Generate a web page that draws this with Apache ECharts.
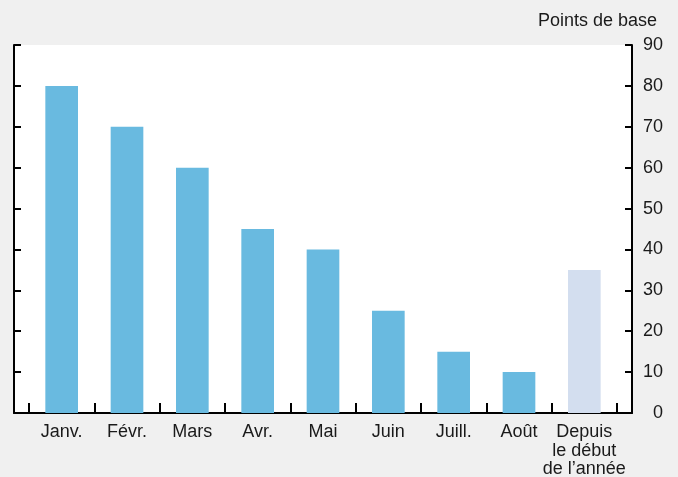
<!DOCTYPE html>
<html>
<head>
<meta charset="utf-8">
<script src="https://cdn.jsdelivr.net/npm/echarts@6/dist/echarts.min.js"></script>
<style>
  html, body { margin: 0; padding: 0; background: #f0f0f0; }
  #chart { width: 678px; height: 477px; }
</style>
</head>
<body>
<div id="chart"></div>
<script>
var categories = ['Janv.', 'Févr.', 'Mars', 'Avr.', 'Mai', 'Juin', 'Juill.', 'Août', 'Depuis\nle début\nde l\u2019année'];
var values = [80, 70, 60, 45, 40, 25, 15, 10, 35];
var barColors = ['#69bae0', '#69bae0', '#69bae0', '#69bae0', '#69bae0', '#69bae0', '#69bae0', '#69bae0', '#d3deef'];
var yTicks = [0, 10, 20, 30, 40, 50, 60, 70, 80, 90];

var font = 'Liberation Sans, Arial, Helvetica, sans-serif';
var chart = echarts.init(document.getElementById('chart'));

var option = {
  backgroundColor: '#f0f0f0',
  animation: false,
  title: {
    text: 'Points de base',
    right: 16,
    top: 7,
    textStyle: { fontFamily: font, fontSize: 18, fontWeight: 'normal', color: '#1a1a1a' }
  },
  grid: [
    // frame grid (white plot area + outer axes)
    { left: 14, right: 46, top: 45, bottom: 64, show: true, backgroundColor: '#fff', borderWidth: 0, outerBoundsMode: 'none' },
    // bars grid, inset a little from the frame
    { left: 29, right: 61, top: 45, bottom: 64, outerBoundsMode: 'none' }
  ],
  xAxis: [
    {
      gridIndex: 0, type: 'value', min: 0, max: 1,
      axisLine: { show: true, onZero: false, lineStyle: { color: '#000', width: 2 } },
      axisTick: { show: false }, axisLabel: { show: false }, splitLine: { show: false }
    },
    {
      gridIndex: 1, type: 'category', data: categories,
      axisLine: { show: false },
      axisTick: { show: true, inside: true, length: 10, alignWithLabel: false, lineStyle: { color: '#000', width: 2 } },
      axisLabel: { margin: 10, fontFamily: font, fontSize: 18, color: '#1a1a1a', lineHeight: 18.5, interval: 0 },
      splitLine: { show: false }
    }
  ],
  yAxis: [
    {
      gridIndex: 0, type: 'value', position: 'left', min: 0, max: 90, interval: 10,
      axisLine: { show: true, lineStyle: { color: '#000', width: 2 } },
      axisTick: { show: true, inside: true, length: 7, lineStyle: { color: '#000', width: 2 } },
      axisLabel: { show: false }, splitLine: { show: false }
    },
    {
      gridIndex: 0, type: 'value', position: 'right', min: 0, max: 90, interval: 10,
      axisLine: { show: true, lineStyle: { color: '#000', width: 2 } },
      axisTick: { show: true, inside: true, length: 7, lineStyle: { color: '#000', width: 2 } },
      axisLabel: {
        margin: 31, align: 'right', fontFamily: font, fontSize: 18, color: '#1a1a1a',
        formatter: function (v) { return yTicks.indexOf(v) >= 0 ? String(v) : ''; }
      },
      splitLine: { show: false }
    },
    {
      gridIndex: 1, type: 'value', min: 0, max: 90, show: false
    }
  ],
  series: [
    {
      type: 'bar',
      xAxisIndex: 1,
      yAxisIndex: 2,
      barWidth: '50%',
      data: values.map(function (v, i) {
        return { value: v, itemStyle: { color: barColors[i] } };
      })
    }
  ]
};

chart.setOption(option);
</script>
</body>
</html>
